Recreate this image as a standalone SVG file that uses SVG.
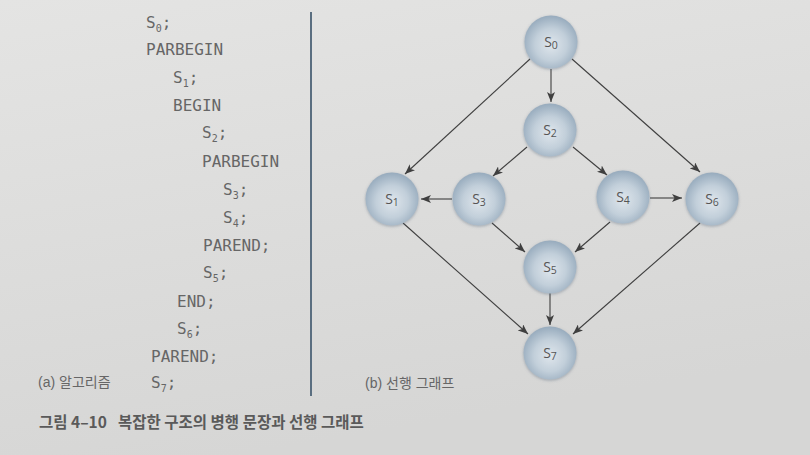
<svg xmlns="http://www.w3.org/2000/svg" width="810" height="455" viewBox="0 0 810 455">
<defs>
<linearGradient id="bg" x1="0" y1="0" x2="0.3" y2="1">
<stop offset="0" stop-color="#e4e4e3"/>
<stop offset="1" stop-color="#d6d6d5"/>
</linearGradient>
<radialGradient id="ball" cx="0.5" cy="0.55" r="0.55">
<stop offset="0" stop-color="#dfe6ec"/>
<stop offset="0.55" stop-color="#c2cfda"/>
<stop offset="1" stop-color="#97abbd"/>
</radialGradient>
<filter id="soft" x="-30%" y="-30%" width="160%" height="160%">
<feGaussianBlur in="SourceAlpha" stdDeviation="1.5"/>
<feOffset dx="0" dy="1" result="b"/>
<feFlood flood-color="#55667a" flood-opacity="0.45"/>
<feComposite in2="b" operator="in"/>
<feMerge><feMergeNode/><feMergeNode in="SourceGraphic"/></feMerge>
</filter>
<marker id="arr" markerUnits="userSpaceOnUse" markerWidth="10" markerHeight="8" refX="10" refY="4" orient="auto">
<path d="M0,0 L10,4 L0,8 L2.5,4 z" fill="#3f3f3f"/>
</marker>
</defs>
<style>
.code{font-family:"DejaVu Sans Mono","Liberation Mono",monospace;font-size:16px;fill:#666;}
.sub{font-size:10px;}
.lbl{font-family:"Liberation Sans","Noto Sans CJK KR",sans-serif;font-size:14px;fill:#666;}
.cap{font-family:"Noto Sans CJK KR","Liberation Sans",sans-serif;font-size:15.5px;fill:#5a5a5a;font-weight:bold;}
.node circle{fill:url(#ball);filter:url(#soft);}
.node text{font-family:"Open Sans","Liberation Sans",sans-serif;font-size:14px;fill:#555;text-anchor:middle;}
.node .ns{font-size:10.5px;}
.edges line{stroke:#3f3f3f;stroke-width:1.1;marker-end:url(#arr);}
</style>
<rect width="810" height="455" fill="url(#bg)"/>

<g id="code">
<text class="code" x="146" y="28">S<tspan class="sub" dy="4">0</tspan><tspan dy="-4">;</tspan></text>
<text class="code" x="146" y="55">PARBEGIN</text>
<text class="code" x="173" y="83">S<tspan class="sub" dy="4">1</tspan><tspan dy="-4">;</tspan></text>
<text class="code" x="173" y="111">BEGIN</text>
<text class="code" x="202" y="138">S<tspan class="sub" dy="4">2</tspan><tspan dy="-4">;</tspan></text>
<text class="code" x="202" y="167">PARBEGIN</text>
<text class="code" x="223" y="195">S<tspan class="sub" dy="4">3</tspan><tspan dy="-4">;</tspan></text>
<text class="code" x="223" y="223">S<tspan class="sub" dy="4">4</tspan><tspan dy="-4">;</tspan></text>
<text class="code" x="203" y="251">PAREND;</text>
<text class="code" x="203" y="278">S<tspan class="sub" dy="4">5</tspan><tspan dy="-4">;</tspan></text>
<text class="code" x="177" y="307">END;</text>
<text class="code" x="177" y="334">S<tspan class="sub" dy="4">6</tspan><tspan dy="-4">;</tspan></text>
<text class="code" x="151" y="362">PAREND;</text>
<text class="code" x="151" y="388">S<tspan class="sub" dy="4">7</tspan><tspan dy="-4">;</tspan></text>
</g>

<line x1="311" y1="12" x2="311" y2="396" stroke="#5a6e80" stroke-width="2"/>

<g class="edges" id="connectors">
<line x1="530" y1="59" x2="405" y2="174"/>
<line x1="551" y1="69" x2="551" y2="102"/>
<line x1="572" y1="59" x2="700" y2="172"/>
<line x1="527" y1="147" x2="493" y2="176"/>
<line x1="573" y1="147" x2="607" y2="175"/>
<line x1="452" y1="199" x2="421" y2="199"/>
<line x1="650" y1="198" x2="682" y2="198"/>
<line x1="403" y1="223" x2="528" y2="334"/>
<line x1="492" y1="223" x2="525" y2="252"/>
<line x1="610" y1="222" x2="575" y2="252"/>
<line x1="700" y1="223" x2="573" y2="334"/>
<line x1="550" y1="293" x2="550" y2="325"/>
</g>

<g class="node" id="S0"><circle cx="551" cy="42" r="26.5"/><text x="551" y="47">S<tspan class="ns" dy="2">0</tspan></text></g>
<g class="node" id="S2"><circle cx="550" cy="130" r="26.5"/><text x="550" y="135">S<tspan class="ns" dy="2">2</tspan></text></g>
<g class="node" id="S1"><circle cx="392" cy="199" r="26.5"/><text x="392" y="204">S<tspan class="ns" dy="2">1</tspan></text></g>
<g class="node" id="S3"><circle cx="479" cy="199" r="26.5"/><text x="479" y="204">S<tspan class="ns" dy="2">3</tspan></text></g>
<g class="node" id="S4"><circle cx="623" cy="197" r="26.5"/><text x="623" y="202">S<tspan class="ns" dy="2">4</tspan></text></g>
<g class="node" id="S6"><circle cx="712" cy="199" r="26.5"/><text x="712" y="204">S<tspan class="ns" dy="2">6</tspan></text></g>
<g class="node" id="S5"><circle cx="550" cy="267" r="26.5"/><text x="550" y="272">S<tspan class="ns" dy="2">5</tspan></text></g>
<g class="node" id="S7"><circle cx="550" cy="353" r="26.5"/><text x="550" y="358">S<tspan class="ns" dy="2">7</tspan></text></g>

<text class="lbl" x="38" y="387">(a) 알고리즘</text>
<text class="lbl" x="365" y="388">(b) 선행 그래프</text>
<text class="cap" x="39" y="428">그림 4–10<tspan x="118">복잡한 구조의 병행 문장과 선행 그래프</tspan></text>
</svg>
